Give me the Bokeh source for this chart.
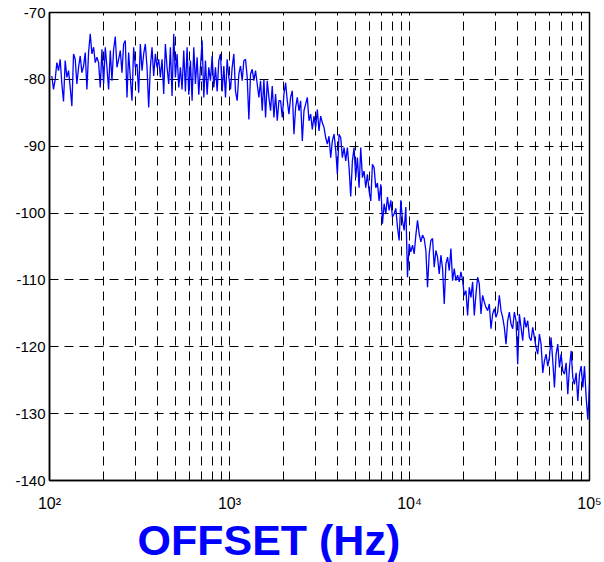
import numpy as np
from bokeh.plotting import figure
from bokeh.models import Range1d, FixedTicker, Title
from bokeh.embed import file_html
from bokeh.resources import INLINE

level_db = [
    -79.5, -81.5, -80.0, -77.5, -78.7, -77.0, -80.7, -83.3, -77.2, -79.7,
    -78.7, -81.2, -84.0, -76.2, -77.0, -80.7, -78.2, -76.5, -79.0, -78.0,
    -76.0, -81.5, -76.0, -73.2, -76.2, -75.2, -77.5, -76.7, -77.5, -81.2,
    -75.5, -80.7, -75.2, -78.2, -81.5, -75.7, -80.2, -75.5, -73.6, -78.2,
    -77.0, -75.7, -79.0, -74.7, -74.2, -82.7, -76.0, -79.7, -83.2, -75.2,
    -78.2, -77.7, -82.0, -74.7, -78.7, -76.2, -74.7, -78.2, -84.2, -78.2,
    -75.2, -79.5, -76.2, -78.2, -77.0, -79.7, -77.0, -82.2, -74.7, -78.2,
    -80.7, -75.2, -82.5, -73.2, -79.7, -76.2, -81.2, -78.2, -81.5, -75.7,
    -81.8, -75.2, -82.3, -77.2, -83.2, -75.2, -80.7, -76.7, -82.3, -78.2,
    -74.2, -82.7, -77.2, -82.3, -78.2, -80.2, -76.5, -81.2, -78.2, -81.8,
    -77.2, -76.2, -81.8, -78.0, -82.7, -77.0, -79.7, -81.5, -78.2, -76.2,
    -81.8, -83.2, -79.2, -78.0, -80.2, -77.2, -77.0, -79.7, -86.0, -79.2,
    -78.5, -80.2, -78.7, -80.7, -82.7, -80.2, -84.7, -80.0, -85.7, -80.2,
    -82.7, -84.7, -81.0, -85.7, -82.2, -86.2, -83.2, -83.2, -85.7, -82.2,
    -80.5, -83.2, -85.2, -82.7, -81.7, -88.2, -84.2, -82.7, -84.7, -83.2,
    -89.2, -84.7, -83.7, -82.7, -86.2, -85.2, -87.5, -85.5, -87.2, -84.5,
    -87.7, -85.5, -86.5, -87.2, -88.7, -89.7, -88.5, -91.7, -89.2, -88.2,
    -90.5, -94.2, -88.2, -88.7, -91.7, -90.2, -92.2, -90.2, -93.2, -97.5,
    -92.2, -90.2, -94.7, -91.7, -96.2, -90.2, -94.7, -93.7, -96.2, -94.2,
    -96.7, -98.2, -92.7, -93.2, -96.2, -95.5, -98.2, -95.7,
    -101.6, -98.6, -100.1, -97.6, -99.6, -98.1, -100.6, -100.1, -99.3, -102.1,
    -104.1, -98.1, -101.1, -102.6, -99.1, -109.6, -104.6, -105.8, -104.8, -106.1,
    -103.3, -101.1, -103.1, -104.3, -103.3, -103.8, -105.6, -111.1, -106.1, -104.1,
    -103.8, -108.1, -105.6, -106.6, -109.1, -106.3, -108.3, -113.6, -107.6, -106.6,
    -108.6, -105.3, -110.1, -108.3, -110.1, -109.3, -110.3, -108.8, -110.1, -112.3,
    -111.6, -115.3, -111.1, -112.6, -110.3, -115.3, -112.1, -109.6, -110.6, -115.1,
    -112.3, -113.3, -114.1, -114.6, -113.6, -117.3, -115.1, -114.3, -115.6, -114.8,
    -112.3, -114.6, -115.6, -117.1, -119.6, -116.1, -114.8, -116.6, -117.3, -114.8,
    -116.1, -122.6, -115.1, -117.1, -119.1, -115.6, -117.1, -116.1, -118.6, -119.1,
    -117.1, -118.6, -120.1, -121.1, -118.1, -119.6, -123.9, -122.1, -121.1, -122.9,
    -121.6, -118.6, -122.1, -126.1, -121.1, -119.6, -123.1, -121.1, -123.6, -124.1,
    -122.4, -127.1, -123.1, -120.6, -124.6, -125.6, -123.9, -128.1, -124.1, -122.9,
    -126.1, -122.9, -127.6, -130.9, -125.6,
]

# Offset frequency grid (log-spaced sweep), Hz
freq_exp_start = 2.013
freq_exp_stop = 5.0
freq_hz = 10 ** np.linspace(freq_exp_start, freq_exp_stop, len(level_db))

x_major = [1e2, 1e3, 1e4, 1e5]
x_minor = [m * 10 ** d for d in (2, 3, 4) for m in range(2, 10)]
x_labels = {100: "10²", 1000: "10³", 10000: "10⁴", 100000: "10⁵"}
y_ticks = [-140, -130, -120, -110, -100, -90, -80, -70]
y_labels = {v: "-%d" % abs(v) for v in y_ticks}
x_title = "OFFSET (Hz)"

FONT = "Liberation Sans"

p = figure(width=604, height=562, x_axis_type="log",
           x_range=Range1d(100, 1e5), y_range=Range1d(-140, -70),
           output_backend="svg", toolbar_location=None,
           min_border_left=49, min_border_right=15,
           min_border_top=12, min_border_bottom=81)

p.background_fill_color = "white"
p.border_fill_color = "white"
p.outline_line_color = "black"
p.outline_line_width = 1.5
p.outline_line_alpha = 1.0

p.line(freq_hz, level_db, line_color="#0000FF", line_width=1.3)

# axes
p.xaxis.ticker = FixedTicker(ticks=x_major, minor_ticks=x_minor)
p.yaxis.ticker = FixedTicker(ticks=y_ticks)
p.xaxis.major_label_overrides = x_labels
p.yaxis.major_label_overrides = y_labels
for ax in (p.xaxis[0], p.yaxis[0]):
    ax.axis_line_color = "black"
    ax.axis_line_width = 1.5
    ax.major_tick_line_color = "black"
    ax.minor_tick_line_color = "black"
    ax.major_tick_in = 6
    ax.major_tick_out = 0
    ax.minor_tick_in = 6
    ax.minor_tick_out = 0
    ax.major_label_text_font = FONT
    ax.major_label_text_color = "black"
p.xaxis.major_label_text_font_size = "16px"
p.yaxis.major_label_text_font_size = "15px"
p.xaxis.major_label_standoff = 14
p.yaxis.major_label_standoff = 4
p.yaxis.minor_tick_line_color = None

# grids
for g in (p.xgrid[0], p.ygrid[0]):
    g.grid_line_color = "black"
    g.grid_line_dash = "9 6"
    g.grid_line_width = 1
    g.grid_line_alpha = 1.0
p.xgrid.minor_grid_line_color = "black"
p.xgrid.minor_grid_line_dash = "9 6"
p.xgrid.minor_grid_line_width = 1

p.add_layout(Title(text=x_title, align="left", offset=88, standoff=-2,
                   text_font=FONT, text_font_size="43px",
                   text_font_style="bold", text_color="#0000FF"), "below")

open("out.html", "w").write(file_html(p, INLINE))
